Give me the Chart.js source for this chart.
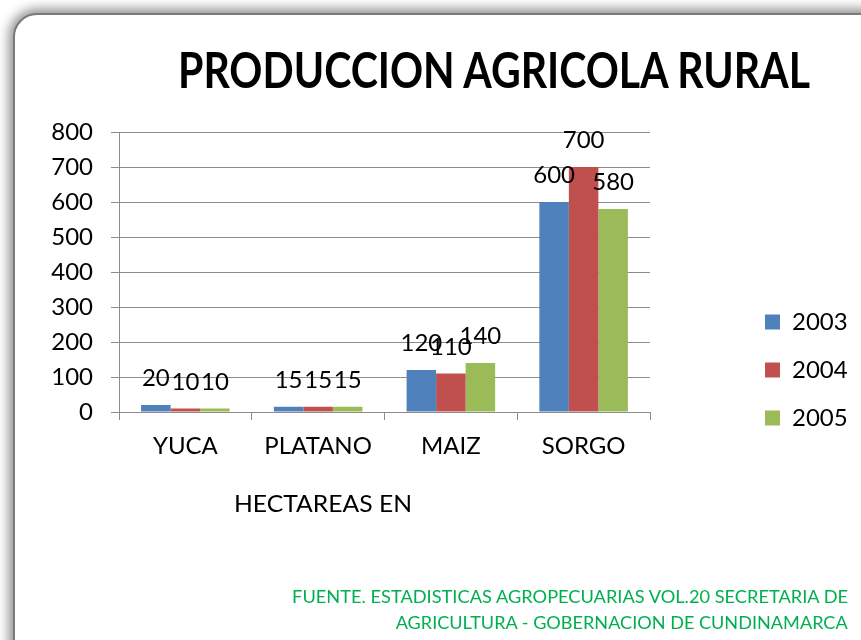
<!DOCTYPE html>
<html>
<head>
<meta charset="utf-8">
<script src="https://cdn.jsdelivr.net/npm/chart.js@4.4.1/dist/chart.umd.min.js"></script>
<style>
html,body{margin:0;padding:0;background:#fff;overflow:hidden;}
#wrap{position:relative;width:861px;height:640px;overflow:hidden;background:#fff;}
#card{position:absolute;left:13px;top:13px;width:880px;height:660px;border:2px solid #7a7a7a;border-radius:24px;box-shadow:0 0 12px 4px rgba(0,0,0,0.45);background:#fff;box-sizing:border-box;}
canvas{position:absolute;left:0;top:0;}
.txt{position:absolute;white-space:nowrap;font-family:Lato,'Open Sans',sans-serif;line-height:1;}
#title{font-weight:bold;font-size:50px;color:#000;left:494px;top:44px;transform-origin:center top;}
#xtitle{font-size:24px;color:#000;left:323px;top:491px;transform-origin:center top;}
.foot{font-size:18px;color:#00B050;right:13px;transform-origin:right top;}
</style>
</head>
<body>
<div id="wrap">
  <div id="card"></div>
  <canvas id="c" width="861" height="640"></canvas>
  <div id="title" class="txt">PRODUCCION AGRICOLA RURAL</div>
  <div id="xtitle" class="txt">HECTAREAS EN</div>
  <div id="foot1" class="txt foot" style="top:587px">FUENTE. ESTADISTICAS AGROPECUARIAS VOL.20 SECRETARIA DE</div>
  <div id="foot2" class="txt foot" style="top:613px">AGRICULTURA - GOBERNACION DE CUNDINAMARCA</div>
</div>
<script>
// ---- data ----
const categories = ['YUCA', 'PLATANO', 'MAIZ', 'SORGO'];
const seriesNames = ['2003', '2004', '2005'];
const values2003 = [20, 15, 120, 600];
const values2004 = [10, 15, 110, 700];
const values2005 = [10, 15, 140, 580];
const seriesColors = ['#4F81BD', '#C0504D', '#9BBB59'];
const yMin = 0, yMax = 800, yStep = 100;

// ---- html text fitting ----
function fit(id, targetW, center) {
  const el = document.getElementById(id);
  const w = el.getBoundingClientRect().width;
  const s = targetW / w;
  el.style.transform = (center ? 'translateX(-50%) ' : '') + 'scaleX(' + s + ')';
}
fit('title', 632, true);
fit('xtitle', 178, true);
fit('foot1', 556, false);
fit('foot2', 452, false);

const FONT = 'Lato';
const FS = 24;
Chart.defaults.font.family = FONT;
Chart.defaults.font.size = FS;
Chart.defaults.color = '#000';

// legend width estimate to place the legend items at the right spot
const mctx = document.createElement('canvas').getContext('2d');
mctx.font = FS + 'px ' + FONT;
const textW = Math.max(...seriesNames.map(t => mctx.measureText(t).width));
const legendPad = 24;
const legendLeft = 765 - legendPad;
const legendW = 10 + legendPad + 15 + FS / 2 + textW;
const padRight = Math.max(0, 861 - legendLeft - legendW);

const valueLabels = {
  id: 'valueLabels',
  afterDatasetsDraw(chart) {
    const ctx = chart.ctx;
    ctx.save();
    ctx.font = FS + 'px ' + FONT;
    ctx.fillStyle = '#000';
    ctx.textAlign = 'center';
    ctx.textBaseline = 'alphabetic';
    chart.data.datasets.forEach((ds, i) => {
      const meta = chart.getDatasetMeta(i);
      meta.data.forEach((el, j) => {
        ctx.fillText(String(ds.data[j]), el.x, el.y - 19);
      });
    });
    ctx.restore();
  }
};

const gridColor = '#8c8c8c';
const allValues = [values2003, values2004, values2005];

new Chart(document.getElementById('c'), {
  type: 'bar',
  data: {
    labels: categories,
    datasets: seriesNames.map((n, i) => ({
      label: n,
      data: allValues[i],
      backgroundColor: seriesColors[i],
      borderWidth: 0,
      categoryPercentage: 0.667,
      barPercentage: 1.0
    }))
  },
  options: {
    responsive: false,
    animation: false,
    devicePixelRatio: 1,
    layout: { padding: { left: 0, top: 132, right: padRight, bottom: 186 } },
    plugins: {
      legend: {
        position: 'right',
        align: 'end',
        labels: { boxWidth: 15, boxHeight: 15, padding: legendPad, font: { size: FS, family: FONT }, color: '#000' }
      },
      tooltip: { enabled: false },
      title: { display: false }
    },
    scales: {
      x: {
        grid: { offset: true, drawOnChartArea: false, drawTicks: true, tickLength: 8, color: gridColor, lineWidth: 1 },
        border: { display: true, color: gridColor, width: 1 },
        ticks: { padding: 12, font: { size: FS }, color: '#000', maxRotation: 0 },
        afterFit(s) { s.height = 42; }
      },
      y: {
        min: yMin, max: yMax,
        ticks: { stepSize: yStep, padding: 18, font: { size: FS }, color: '#000' },
        grid: { color: gridColor, lineWidth: 1, tickLength: 8, drawTicks: true },
        border: { display: true, color: gridColor, width: 1 },
        afterFit(s) { s.width = 119; }
      },
      spacer: {
        type: 'linear',
        position: 'right',
        display: true,
        grid: { display: false, drawTicks: false },
        border: { display: false },
        ticks: { display: false },
        afterFit(s) { s.width = legendLeft - 650; }
      }
    }
  },
  plugins: [valueLabels]
});
</script>
</body>
</html>
